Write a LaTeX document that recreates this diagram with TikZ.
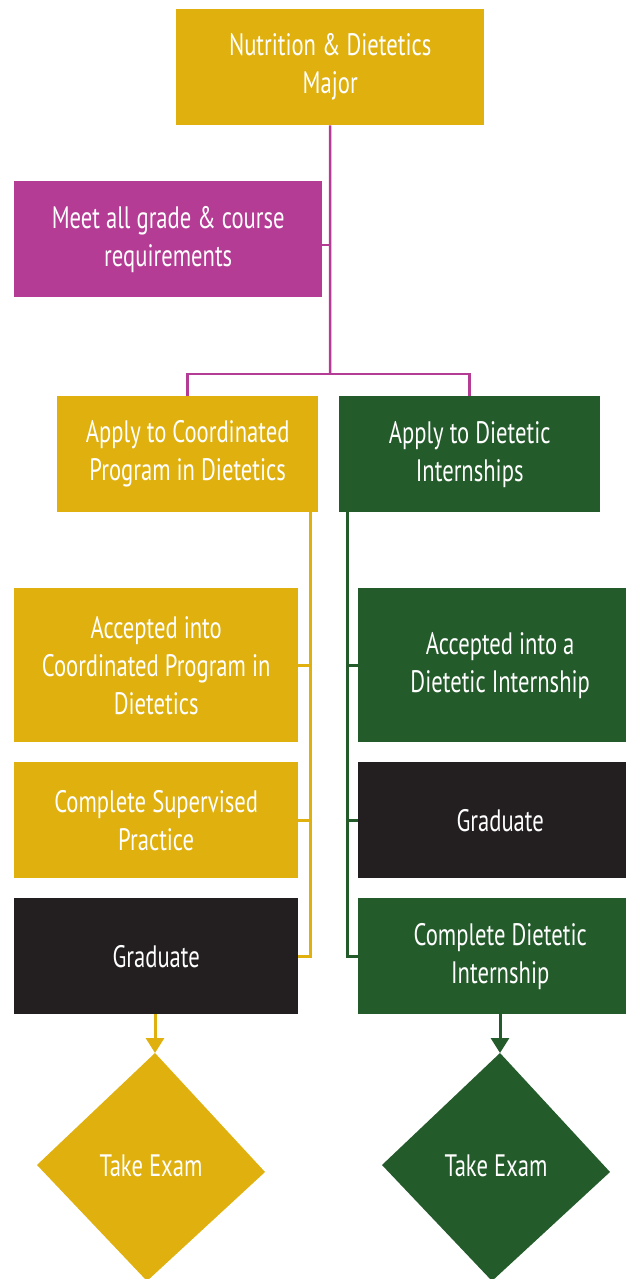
\documentclass[tikz,border=0pt]{standalone}
\usepackage{fontspec}
\setmainfont{PT Sans}[FakeStretch=0.73]
\usetikzlibrary{arrows.meta}
\definecolor{yel}{HTML}{DFB00E}
\definecolor{mag}{HTML}{B53C94}
\definecolor{grn}{HTML}{245B2B}
\definecolor{blk}{HTML}{231F20}
\tikzset{
  box/.style={rectangle, inner sep=0pt, anchor=north west, text=white, align=center,
    font=\fontsize{31}{38}\selectfont},
  yline/.style={draw=yel, line width=3pt},
  gline/.style={draw=grn, line width=3pt},
  mline/.style={draw=mag, line width=2.5pt},
  tip/.style={-{Triangle[width=18pt,length=15pt]}}
}
\begin{document}
\begin{tikzpicture}[x=1pt,y=-1pt]
\useasboundingbox (0,0) rectangle (626,1279);
\clip (0,0) rectangle (626,1279);
% boxes
\node[box, fill=yel, minimum width=308pt, minimum height=116pt] (major) at (176,9) {Nutrition \& Dietetics\\Major};
\node[box, fill=mag, minimum width=308pt, minimum height=116pt] (meet) at (14,181) {Meet all grade \& course\\requirements};
\node[box, fill=yel, minimum width=261pt, minimum height=116pt] (applyCP) at (57,396) {Apply to Coordinated\\Program in Dietetics};
\node[box, fill=grn, minimum width=261pt, minimum height=116pt] (applyDI) at (339,396) {Apply to Dietetic\\Internships};
\node[box, fill=yel, minimum width=284pt, minimum height=154pt] (accCP) at (14,588) {Accepted into\\Coordinated Program in\\Dietetics};
\node[box, fill=yel, minimum width=284pt, minimum height=116pt] (supCP) at (14,762) {Complete Supervised\\Practice};
\node[box, fill=blk, minimum width=284pt, minimum height=116pt] (gradCP) at (14,898) {Graduate};
\node[box, fill=grn, minimum width=284pt, minimum height=154pt] (accDI) at (358,588) {Accepted into a\\Dietetic Internship};
\node[box, fill=blk, minimum width=284pt, minimum height=116pt] (gradDI) at (358,762) {Graduate};
\node[box, fill=grn, minimum width=284pt, minimum height=116pt] (compDI) at (358,898) {Complete Dietetic\\Internship};
% diamonds
\coordinate (dLt) at (155,1053); \coordinate (dLl) at (37,1165);
\coordinate (dLr) at (265,1172); \coordinate (dLb) at (147,1281);
\fill[yel] (dLt) -- (dLr) -- (dLb) -- (dLl) -- cycle;
\node[text=white, font=\fontsize{31}{38}\selectfont] (examL) at (151,1166) {Take Exam};
\coordinate (dRt) at (500,1053); \coordinate (dRl) at (382,1165);
\coordinate (dRr) at (610,1172); \coordinate (dRb) at (492,1281);
\fill[grn] (dRt) -- (dRr) -- (dRb) -- (dRl) -- cycle;
\node[text=white, font=\fontsize{31}{38}\selectfont] (examR) at (496,1166) {Take Exam};
% magenta connectors
\coordinate (mj) at (330,374);
\draw[mline] (major.south) -- (mj);
\draw[mline] ([yshift=-6pt]meet.east) -- ([yshift=-6pt]meet.east -| mj);
\draw[mline] (applyCP.north) |- (mj) -| (applyDI.north);
% yellow trunk
\coordinate (ty) at (310,512);
\draw[yline] (ty) |- (gradCP.east);
\draw[yline] (accCP.east) -- (accCP.east -| ty);
\draw[yline] (supCP.east) -- (supCP.east -| ty);
% green trunk
\coordinate (tg) at (347,512);
\draw[gline] (tg) |- (compDI.west);
\draw[gline] (accDI.west) -- (accDI.west -| tg);
\draw[gline] (gradDI.west) -- (gradDI.west -| tg);
% arrows
\draw[yline, tip, fill=yel] (gradCP.south -| dLt) -- (dLt);
\draw[gline, tip, fill=grn] (compDI.south -| dRt) -- (dRt);
\end{tikzpicture}
\end{document}
